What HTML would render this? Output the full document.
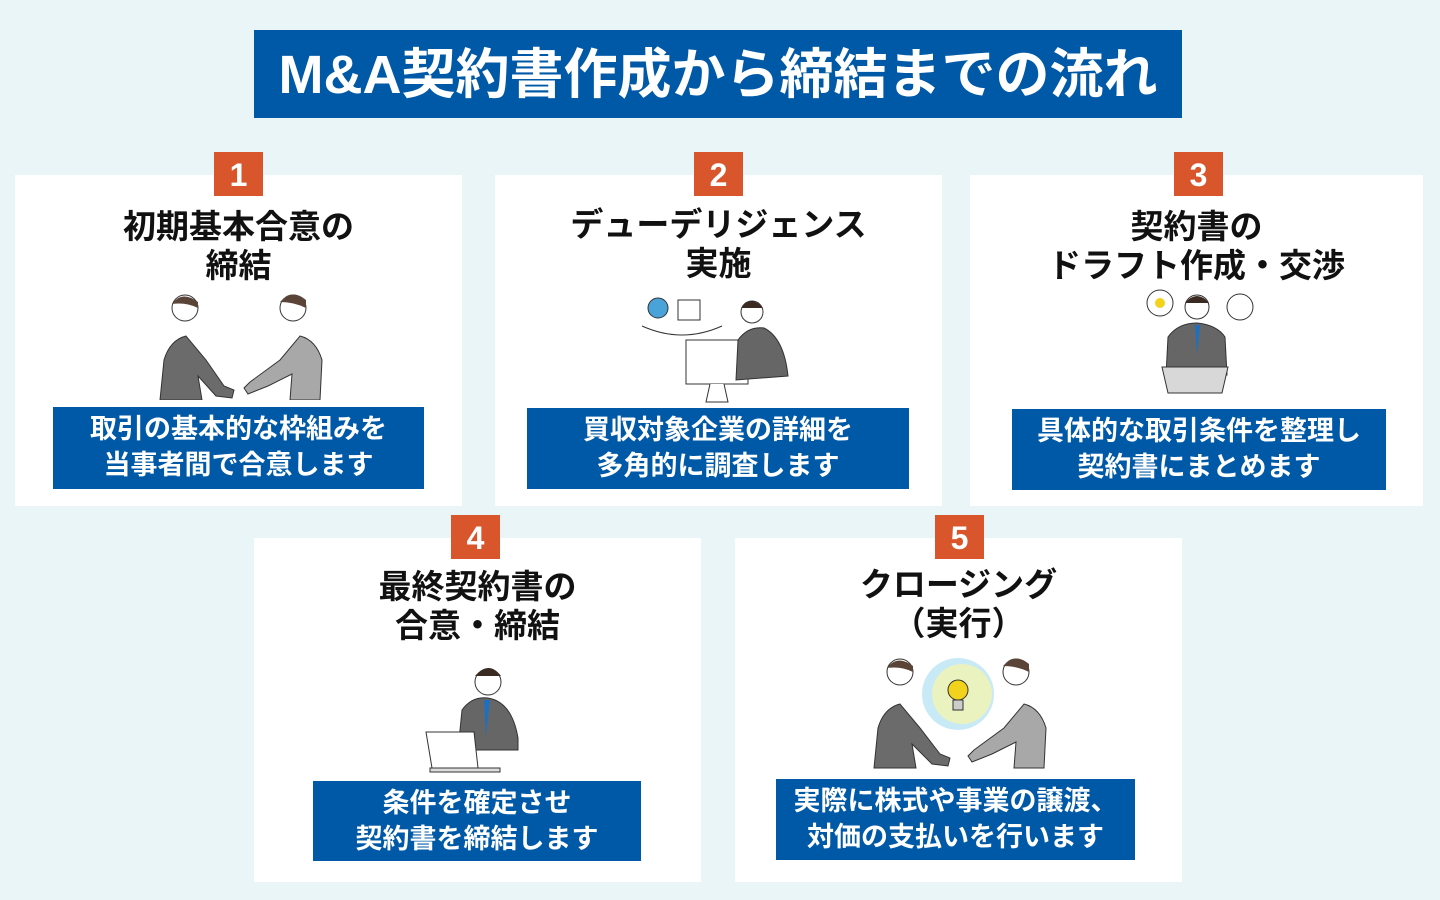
<!DOCTYPE html>
<html><head><meta charset="utf-8"><style>
*{margin:0;padding:0;box-sizing:border-box}
body{width:1440px;height:900px;background:#eaf5f8;position:relative;overflow:hidden;font-family:"Liberation Sans","Noto Sans CJK JP",sans-serif;font-weight:700}
.t{position:absolute;left:254px;top:30px;width:928px;height:88px;background:#0059a6;color:#fff;font-size:54px;line-height:90px;text-align:center;white-space:nowrap}
.c{position:absolute;background:#fff}
.b{position:absolute;width:49px;height:44px;background:#d9552b;color:#fff;font-size:32px;line-height:46px;text-align:center}
.h{position:absolute;text-align:center;color:#111;font-size:33px;line-height:39px;white-space:nowrap}
.d{position:absolute;background:#0059a6;color:#fff;font-size:27px;line-height:36px;text-align:center;padding-top:4px;white-space:nowrap}
svg{position:absolute}
</style></head><body>
<div class="t">M&amp;A契約書作成から締結までの流れ</div>

<div class="c" style="left:15px;top:175px;width:447px;height:331px"></div>
<div class="c" style="left:495px;top:175px;width:447px;height:331px"></div>
<div class="c" style="left:970px;top:175px;width:453px;height:331px"></div>
<div class="c" style="left:254px;top:538px;width:447px;height:344px"></div>
<div class="c" style="left:735px;top:538px;width:447px;height:344px"></div>

<div class="b" style="left:214px;top:152px">1</div>
<div class="b" style="left:694px;top:152px">2</div>
<div class="b" style="left:1174px;top:152px">3</div>
<div class="b" style="left:451px;top:515px">4</div>
<div class="b" style="left:935px;top:515px">5</div>

<div class="h" style="left:15px;top:207px;width:447px">初期基本合意の<br>締結</div>
<div class="h" style="left:495px;top:205px;width:447px">デューデリジェンス<br>実施</div>
<div class="h" style="left:970px;top:207px;width:453px">契約書の<br>ドラフト作成・交渉</div>
<div class="h" style="left:254px;top:567px;width:447px">最終契約書の<br>合意・締結</div>
<div class="h" style="left:735px;top:565px;width:447px">クロージング<br>（実行）</div>

<div class="d" style="left:53px;top:407px;width:371px;height:82px">取引の基本的な枠組みを<br>当事者間で合意します</div>
<div class="d" style="left:527px;top:408px;width:382px;height:81px">買収対象企業の詳細を<br>多角的に調査します</div>
<div class="d" style="left:1012px;top:409px;width:374px;height:81px">具体的な取引条件を整理し<br>契約書にまとめます</div>
<div class="d" style="left:313px;top:781px;width:328px;height:80px">条件を確定させ<br>契約書を締結します</div>
<div class="d" style="left:776px;top:779px;width:359px;height:81px">実際に株式や事業の譲渡、<br>対価の支払いを行います</div>

<svg style="left:150px;top:290px" width="180" height="110" viewBox="0 0 180 110">
<circle cx="35" cy="18" r="13" fill="#fff" stroke="#333"/><path d="M22 14q10-14 26-2v6q-12-6-26-4z" fill="#5a4438"/>
<path d="M10 110l4-40q6-20 22-24l20 24 18 26 10 4-2 8-16-2-18-20 4 24z" fill="#6b6b6b" stroke="#333"/>
<circle cx="143" cy="18" r="13" fill="#fff" stroke="#333"/><path d="M130 12q12-14 26-2v8q-12-6-26-6z" fill="#5a4438"/>
<path d="M170 110l2-40q-6-20-22-24l-20 24-30 22-6 6 4 6 20-8 24-12-2 26z" fill="#a8a8a8" stroke="#333"/>
</svg>
<svg style="left:640px;top:290px" width="160" height="115" viewBox="0 0 160 115">
<circle cx="18" cy="18" r="10" fill="#4aa3d8" stroke="#333"/><rect x="38" y="10" width="22" height="20" fill="#fff" stroke="#333"/>
<path d="M2 36q40 18 80 0" fill="none" stroke="#333"/>
<rect x="46" y="50" width="62" height="44" fill="#fff" stroke="#333"/><path d="M70 94l-4 18h22l-4-18" fill="#fff" stroke="#333"/>
<circle cx="112" cy="22" r="11" fill="#fff" stroke="#333"/><path d="M101 18q10-14 22 0z" fill="#3a2a22"/>
<path d="M96 90l2-40q10-14 26-12q20 10 24 48z" fill="#666" stroke="#333"/>
</svg>
<svg style="left:1140px;top:285px" width="120" height="115" viewBox="0 0 120 115">
<circle cx="20" cy="18" r="13" fill="#fff" stroke="#333"/><circle cx="20" cy="18" r="5" fill="#f2d21a"/>
<circle cx="100" cy="22" r="13" fill="#fff" stroke="#333"/>
<circle cx="57" cy="22" r="12" fill="#fff" stroke="#333"/><path d="M45 18q12-14 24 0z" fill="#3a2a22"/>
<path d="M26 90l2-38q10-14 29-14q20 2 28 14l2 38z" fill="#666" stroke="#333"/>
<path d="M55 40l2 30 3-30z" fill="#1f6fc0"/>
<path d="M22 82h66l-6 26h-54z" fill="#d8d8d8" stroke="#333"/>
</svg>
<svg style="left:420px;top:660px" width="110" height="115" viewBox="0 0 110 115">
<circle cx="68" cy="22" r="13" fill="#fff" stroke="#333"/><path d="M55 16q14-16 26 0z" fill="#3a2a22"/>
<path d="M38 90l4-40q10-14 26-12q24 4 30 40l0 12z" fill="#666" stroke="#333"/>
<path d="M64 40l2 36 4-36z" fill="#1f6fc0"/>
<path d="M6 72h48l4 36h-46z" fill="#fff" stroke="#333"/><path d="M10 108h70v4h-70z" fill="#ddd" stroke="#333"/>
</svg>
<svg style="left:866px;top:652px" width="185" height="118" viewBox="0 0 185 118">
<circle cx="92" cy="42" r="36" fill="#c8eaf7"/><circle cx="96" cy="42" r="30" fill="#f2f4b0" opacity=".8"/>
<circle cx="92" cy="38" r="10" fill="#f2d21a" stroke="#333"/><rect x="87" y="48" width="10" height="10" fill="#ccc" stroke="#333"/>
<circle cx="34" cy="20" r="13" fill="#fff" stroke="#333"/><path d="M21 16q10-14 26-2v6q-12-6-26-4z" fill="#5a4438"/>
<path d="M8 116l4-40q6-20 22-24l20 24 20 26 10 4-2 8-16-2-20-20 4 24z" fill="#6b6b6b" stroke="#333"/>
<circle cx="150" cy="20" r="13" fill="#fff" stroke="#333"/><path d="M137 14q12-14 26-2v8q-12-6-26-6z" fill="#5a4438"/>
<path d="M178 116l2-40q-6-20-22-24l-20 24-30 22-6 6 4 6 20-8 24-12-2 26z" fill="#a8a8a8" stroke="#333"/>
</svg>
</body></html>
